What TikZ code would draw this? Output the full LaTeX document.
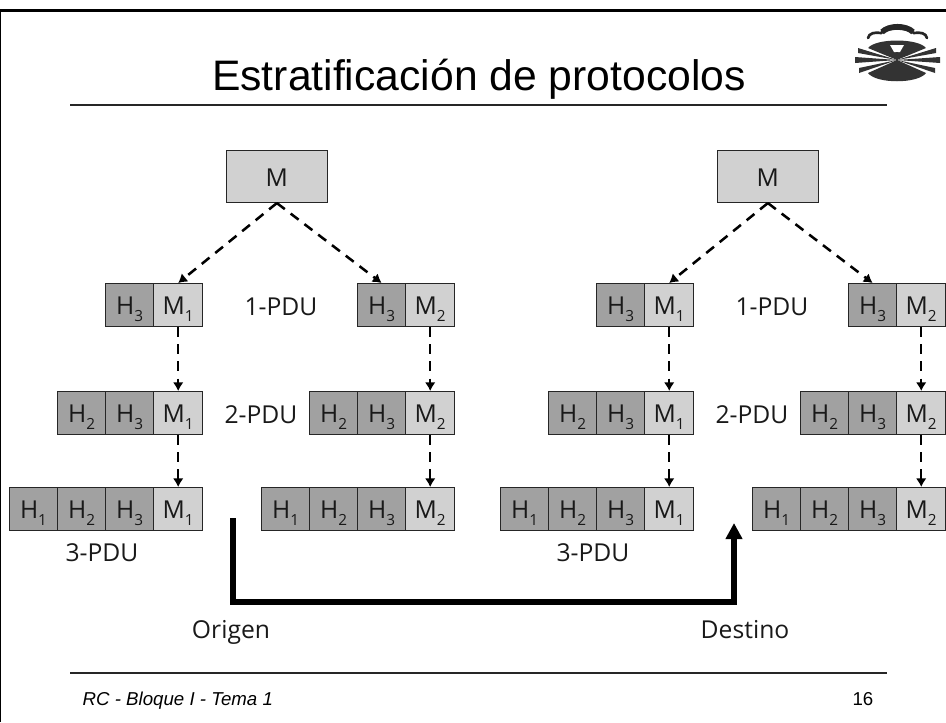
\documentclass[tikz,border=0pt]{standalone}
\usepackage{fontspec}
\setmainfont{Liberation Sans}
\newfontfamily\cellfont{Open Sans}
\usetikzlibrary{arrows.meta}
\newcommand{\sbs}[1]{\raisebox{-4.6pt}{\fontsize{11.5}{12}\selectfont #1}}
\tikzset{
 x=0.75pt,y=-0.75pt,
 cell/.style={draw=black!85,line width=0.8pt,minimum width=36pt,minimum height=32pt,inner sep=0pt,text height=15pt,text depth=0pt,anchor=north west,font=\cellfont\fontsize{18.5}{20}\selectfont,text=black!90},
 hdr/.style={cell,fill=black!37},
 msg/.style={cell,fill=black!18},
 dashline/.style={draw=black,line width=1.9pt,dash pattern=on 7.5pt off 5.5pt,-{Latex[length=6.5pt,width=8pt]}},
 lab/.style={anchor=base,font=\cellfont\fontsize{18.5}{20}\selectfont,text=black!90},
 rule/.style={draw=black!85,line width=0.8pt},
 logo/.style={fill=black!80,draw=none},
}
\begin{document}
\begin{tikzpicture}
\useasboundingbox (0,0) rectangle (946,722);
\draw[line width=2.2pt] (0,10.5) -- (946,10.5);
\draw[line width=1.3pt] (0.5,10) -- (0.5,722);
\node[font=\fontsize{32}{36}\selectfont,anchor=base] (title) at (479,90) {Estratificación de protocolos};
\coordinate (r1) at (70,105); \coordinate (r2) at (887,105);
\draw[rule] (r1) -- (r2);
\coordinate (r3) at (70,673); \coordinate (r4) at (887,673);
\draw[rule] (r3) -- (r4);
\node[font=\itshape\fontsize{14}{16}\selectfont,anchor=base west] (foot) at (78,705) {RC - Bloque I - Tema 1};
\node[font=\fontsize{14}{16}\selectfont,anchor=base east] (pg) at (878,705) {16};
% logo
\begin{scope}
 \fill[logo] (897,60) -- (868,48) .. controls (876,38) and (918,38) .. (926,48) -- cycle;
 \fill[logo] (897,60) -- (868,73) .. controls (876,84) and (918,84) .. (926,73) -- cycle;
 \fill[white] (897,60) -- (868,50) -- (868,46) -- (860,46) -- (860,52) -- cycle;
 \fill[white] (897,60) -- (926,50) -- (926,46) -- (934,46) -- (934,52) -- cycle;
 \fill[logo] (897,60) -- (858,48) -- (858,53) -- cycle;
 \fill[logo] (897,60) -- (855,57) -- (855,63) -- cycle;
 \fill[logo] (897,60) -- (859,68) -- (859,73) -- cycle;
 \fill[logo] (897,60) -- (936,48) -- (936,53) -- cycle;
 \fill[logo] (897,60) -- (940,57) -- (940,63) -- cycle;
 \fill[logo] (897,60) -- (935,68) -- (935,73) -- cycle;
 \fill[white] (890,45) -- (904,45) -- (900,52) -- (894,52) -- cycle;
 \draw[black!80,line width=1.6pt] (897,52) -- (897,69);
 \draw[black!85,line width=2pt,line cap=round] (868,38) .. controls (869,33) and (875,32) .. (881,33) .. controls (887,27) and (907,27) .. (914,33) .. controls (920,32) and (926,33) .. (927,38);
 \draw[black!85,line width=4.2pt] (882,32) .. controls (889,25) and (906,25) .. (913,32);
\end{scope}
\newcommand{\tree}[2]{%
 \node[msg,minimum width=75.5pt,minimum height=39pt] (#2m) at (226+#1,150) {M};
 % left column
 \node[hdr] (#2a3) at (105+#1,283) {H\sbs{3}};
 \node[msg,minimum width=37pt] (#2a) at (153+#1,283) {M\sbs{1}};
 \node[hdr] (#2b2) at (57+#1,391) {H\sbs{2}};
 \node[hdr] (#2b3) at (105+#1,391) {H\sbs{3}};
 \node[msg,minimum width=37pt] (#2b) at (153+#1,391) {M\sbs{1}};
 \node[hdr] (#2c1) at (9+#1,487) {H\sbs{1}};
 \node[hdr] (#2c2) at (57+#1,487) {H\sbs{2}};
 \node[hdr] (#2c3) at (105+#1,487) {H\sbs{3}};
 \node[msg,minimum width=37pt] (#2c) at (153+#1,487) {M\sbs{1}};
 % right column
 \node[hdr] (#2d3) at (357+#1,283) {H\sbs{3}};
 \node[msg,minimum width=37pt] (#2d) at (405+#1,283) {M\sbs{2}};
 \node[hdr] (#2e2) at (309+#1,391) {H\sbs{2}};
 \node[hdr] (#2e3) at (357+#1,391) {H\sbs{3}};
 \node[msg,minimum width=37pt] (#2e) at (405+#1,391) {M\sbs{2}};
 \node[hdr] (#2f1) at (261+#1,487) {H\sbs{1}};
 \node[hdr] (#2f2) at (309+#1,487) {H\sbs{2}};
 \node[hdr] (#2f3) at (357+#1,487) {H\sbs{3}};
 \node[msg,minimum width=37pt] (#2f) at (405+#1,487) {M\sbs{2}};
 \node[lab] (#2l1) at (281+#1,315) {1-PDU};
 \node[lab] (#2l2) at (261+#1,423) {2-PDU};
 \node[lab] (#2l3) at (102+#1,561) {3-PDU};
 \draw[dashline] (#2m.south) -- (#2a.north);
 \draw[dashline] (#2m.south) -- (#2d3.north);
 \draw[dashline] (#2a.south) -- (#2b.north);
 \draw[dashline] (#2b.south) -- (#2c.north);
 \draw[dashline] (#2d.south) -- (#2e.north);
 \draw[dashline] (#2e.south) -- (#2f.north);
}
\tree{0}{p}
\tree{491}{q}
\node[lab] (or) at (231,638) {Origen};
\node[lab] (de) at (745,638) {Destino};
\coordinate (s) at (233,518); \coordinate (t) at (734,523);
\draw[line width=3.8pt,-{Triangle[length=12pt,width=12pt]}] (s) -- (233,602) -- (734,602) -- (t);
\end{tikzpicture}
\end{document}
